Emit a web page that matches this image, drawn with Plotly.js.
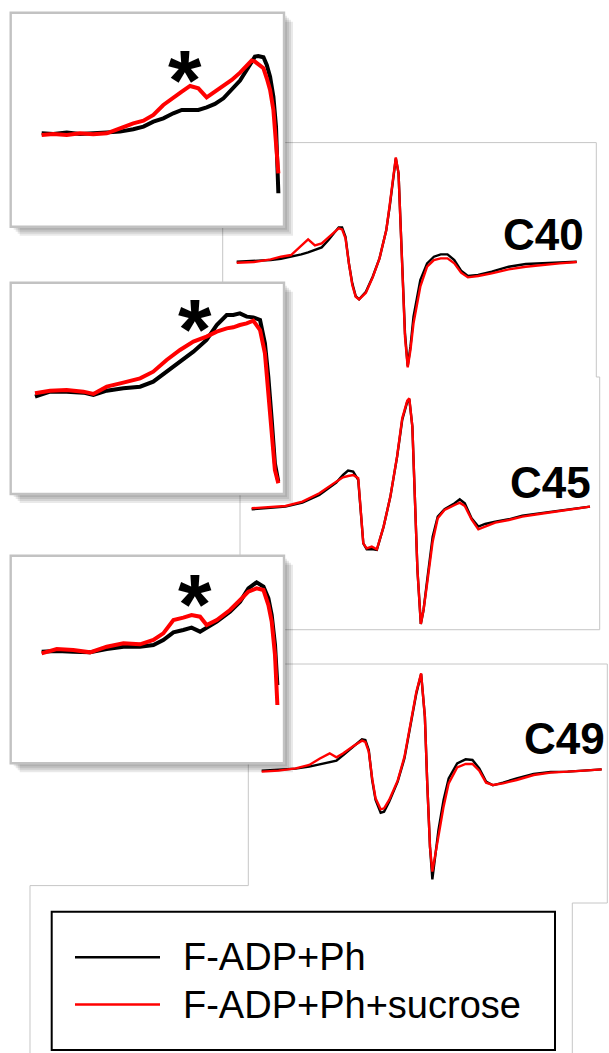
<!DOCTYPE html>
<html><head><meta charset="utf-8">
<script src="https://cdn.plot.ly/plotly-3.0.1.min.js"></script>
<style>html,body{margin:0;padding:0;background:#fff;overflow:hidden}#chart{width:609px;height:1053px}</style>
</head><body><div id="chart"></div>
<script>
// ---------- DATA (relative field, arbitrary EPR intensity) ----------
const seriesNames = ['F-ADP+Ph', 'F-ADP+Ph+sucrose'];
const panelLabels = ['C40', 'C45', 'C49'];

const fieldC40 = [0,5,10,13,16,19,21,23,25,27,29,30,31,32,33,34,35,36,38,40,42,44,45,46,46.8,47.6,48.2,48.8,49.5,50.3,51.1,52,53,54,56,58,60,62,64,66,68,71,75,80,85,90,95,100];
const c40Black = [0,2,5,9,15,22,28,35,43,65,90,103,103,75,-5,-65,-103,-113,-90,-45,10,95,165,245,310,265,115,-55,-215,-313,-255,-165,-105,-55,-5,15,22,22,5,-27,-43,-40,-30,-15,-7,-5,-3,0];
const c40Red   = [-3,-1,7,15,20,47,67,49,55,73,93,100,97,70,-5,-70,-105,-113,-93,-47,10,95,170,255,313,265,115,-55,-225,-317,-265,-185,-125,-75,-15,5,10,10,-5,-33,-47,-43,-35,-23,-15,-9,-5,-1];

const fieldC45 = [0,5,10,15,20,25,27,28.5,30,31.5,32.3,33,34,35.5,37,39,41,43,44.5,46,46.6,47.5,48.3,49,50,50.8,52,53.5,55,57,60,61.5,63,65,67,69,72,76,80,85,90,95,100];
const c45Black = [0,5,8,20,43,80,103,116,113,88,-22,-102,-120,-119,-122,-52,38,158,268,323,330,248,18,-182,-344,-302,-202,-82,-22,0,18,30,18,-27,-52,-44,-37,-30,-19,-12,-7,0,8];
const c45Red   = [3,6,10,23,48,83,96,100,103,93,-22,-102,-117,-112,-120,-52,38,160,273,326,333,248,18,-182,-344,-302,-212,-97,-27,-2,13,20,10,-30,-60,-52,-40,-32,-22,-14,-7,0,8];

const fieldC49 = [0,5,10,14,17,20,22,24,27,29.5,30.5,31.5,32.5,33.5,35,36,37.5,40,42,44,45.5,46.9,48,48.7,49.5,50.2,51,52,53.5,55,57.5,60,62,64,66,68,71,75,80,85,90,95,100];
const c49Black = [0,2,6,12,18,26,30,47,72,94,92,62,-28,-88,-126,-123,-93,-33,37,142,232,290,162,-38,-228,-326,-258,-178,-88,-23,22,34,32,7,-33,-44,-36,-23,-10,-4,-3,0,4];
const c49Red   = [-3,0,7,17,36,52,40,52,74,90,86,57,-23,-83,-116,-113,-88,-30,42,147,237,292,162,-38,-228,-303,-258,-198,-108,-38,10,20,20,0,-36,-43,-38,-28,-13,-6,-4,0,4];

// insets: low-field region enlarged
const fieldIn40 = [0,4.9,10.6,16.2,21.8,27.5,33.1,38.7,43,47.2,51.4,55.6,59.2,62.7,66.2,69.7,73.2,76.8,80.3,83.8,86.6,88.7,90.1,91.5,93.7,95.1,96.5,97.9,99,100];
const in40Black = [0,-2,2,-2,0,2,5,12,20,35,45,60,70,70,70,78,88,105,130,158,190,215,230,232,228,205,170,110,20,-180];
const in40Red   = [-5,-2,-5,0,-3,0,15,30,38,55,85,108,125,142,135,108,125,142,160,182,205,218,215,208,195,165,130,70,-20,-120];

const fieldIn45 = [0,6.2,13,19.9,24,29.5,36.3,43.2,48.6,54.1,59.6,65.1,70.5,74.7,78.8,81.5,84.2,87,89.7,92.5,94.5,95.9,97.3,98.6,100];
const in45Black = [0,15,15,12,5,18,25,30,45,75,105,135,170,215,245,245,250,240,238,230,160,60,-70,-200,-255];
const in45Red   = [10,18,20,15,8,30,42,55,75,110,140,165,180,195,205,208,215,220,228,200,130,20,-110,-220,-260];

const fieldIn49 = [0,6.4,13.4,20.5,27.6,34.7,41.7,47.4,51.6,55.9,60.1,63.6,67.2,70,74.3,79.9,84.2,87.7,91.2,94.1,96.2,97.6,99,100];
const in49Black = [0,2,0,-2,8,15,15,20,35,58,65,72,60,72,90,120,150,190,208,195,160,110,20,-100];
const in49Red   = [-5,8,5,-2,15,25,22,35,55,95,102,110,105,80,95,125,155,180,190,185,140,90,-10,-160];

// ---------- LAYOUT ----------
const W = 609, H = 1053;
const FONT = '"Liberation Sans", Arial, sans-serif';
const px = x => x / W, py = y => 1 - y / H;

// pixel placement of each subplot: pixel = a + b*value
const panels = [
  {f: fieldC40, k: c40Black, r: c40Red, ax: 236.7, bx: 3.4,   ay: 261.7,  xr: [-3, 102], yr: [-360, 360], lw: 2.4},
  {f: fieldC45, k: c45Black, r: c45Red, ax: 251.67, bx: 3.383, ay: 509.3, xr: [-3, 102], yr: [-360, 360], lw: 2.4},
  {f: fieldC49, k: c49Black, r: c49Red, ax: 261.67, bx: 3.4,  ay: 770.67, xr: [-3, 102], yr: [-360, 360], lw: 2.4},
  {f: fieldIn40, k: in40Black, r: in40Red, ax: 41.67, bx: 2.367, ay: 133.3,  xr: [-3, 103], yr: [-300, 300], lw: 4},
  {f: fieldIn45, k: in45Black, r: in45Red, ax: 35,    bx: 2.433, ay: 396.67, xr: [-3, 103], yr: [-300, 300], lw: 4},
  {f: fieldIn49, k: in49Black, r: in49Red, ax: 41.67, bx: 2.357, ay: 651.67, xr: [-3, 103], yr: [-300, 300], lw: 4}
];
const by = -1 / 3;

const traces = [];
const layout = {
  width: W, height: H,
  margin: {l: 0, r: 0, t: 0, b: 0},
  paper_bgcolor: '#ffffff', plot_bgcolor: 'rgba(0,0,0,0)',
  showlegend: false,
  shapes: [], annotations: []
};

panels.forEach((p, i) => {
  const n = i + 1, sx = n === 1 ? '' : String(n);
  layout['xaxis' + sx] = {
    domain: [(p.ax + p.bx * p.xr[0]) / W, (p.ax + p.bx * p.xr[1]) / W],
    range: p.xr, visible: false, fixedrange: true, anchor: 'y' + sx
  };
  layout['yaxis' + sx] = {
    domain: [1 - (p.ay + by * p.yr[0]) / H, 1 - (p.ay + by * p.yr[1]) / H],
    range: p.yr, visible: false, fixedrange: true, anchor: 'x' + sx
  };
  traces.push({x: p.f, y: p.k, xaxis: 'x' + sx, yaxis: 'y' + sx, mode: 'lines',
    name: seriesNames[0], line: {color: '#000000', width: p.lw}, hoverinfo: 'skip'});
  traces.push({x: p.f, y: p.r, xaxis: 'x' + sx, yaxis: 'y' + sx, mode: 'lines',
    name: seriesNames[1], line: {color: '#ff0000', width: p.lw}, hoverinfo: 'skip'});
});

// ---------- frames ----------
const path = pts => pts.map((q, i) => (i ? 'L' : 'M') + px(q[0]).toFixed(5) + ',' + py(q[1]).toFixed(5)).join(' ');
const gray = '#c6c6c6';
const grayPaths = [
  [[222.7,377],[222.7,142.6],[596.3,142.6],[596.3,377],[599.7,377],[599.7,629.7],[240,629.7],[240,377]],
  [[248.3,664],[607.3,664],[607.3,903],[572.3,903],[572.3,1053]],
  [[248.3,664],[248.3,885.6],[30,885.6],[30,1053]]
];
grayPaths.forEach(g => layout.shapes.push({type: 'path', xref: 'paper', yref: 'paper', layer: 'below',
  path: path(g), line: {color: gray, width: 1}}));

const insets = [[10.7, 12.7, 284, 226.7], [10.7, 282.7, 284, 494], [10.7, 555.7, 284, 763.3]];
insets.forEach(b => {
  [9, 7, 5, 3].forEach(d => layout.shapes.push({type: 'rect', xref: 'paper', yref: 'paper', layer: 'below',
    x0: px(b[0] + d), x1: px(b[2] + d), y0: py(b[1] + d), y1: py(b[3] + d),
    fillcolor: 'rgba(0,0,0,0.085)', line: {width: 0}}));
  layout.shapes.push({type: 'rect', xref: 'paper', yref: 'paper', layer: 'below',
    x0: px(b[0]), x1: px(b[2]), y0: py(b[1]), y1: py(b[3]),
    fillcolor: '#ffffff', line: {color: '#c2c2c2', width: 2.4}});
});

// legend box
layout.shapes.push({type: 'rect', xref: 'paper', yref: 'paper', layer: 'below',
  x0: px(51.7), x1: px(555), y0: py(911.7), y1: py(1050), fillcolor: '#ffffff', line: {color: '#000000', width: 2}});
const legendY = [957.3, 1004.5], legendColors = ['#000000', '#ff0000'];
seriesNames.forEach((nm, i) => {
  layout.shapes.push({type: 'line', xref: 'paper', yref: 'paper', x0: px(75), x1: px(160),
    y0: py(legendY[i]), y1: py(legendY[i]), line: {color: legendColors[i], width: 2.5}});
  layout.annotations.push({xref: 'paper', yref: 'paper', x: px(181), y: py(legendY[i]),
    xanchor: 'left', yanchor: 'middle', showarrow: false, text: nm,
    font: {family: FONT, size: 38, color: '#000000'}});
});

// panel labels
const labelPos = [[543, 234], [550, 482.5], [564, 738.5]];
panelLabels.forEach((t, i) => layout.annotations.push({xref: 'paper', yref: 'paper',
  x: px(labelPos[i][0]), y: py(labelPos[i][1]), xanchor: 'center', yanchor: 'middle', showarrow: false,
  text: '<b>' + t + '</b>', font: {family: FONT, size: 44, color: '#000000'}}));

// asterisks marking the sucrose-sensitive shoulder
const starPos = [[185, 67.7], [195, 316.7], [195, 591.7]];
starPos.forEach(s => layout.annotations.push({xref: 'paper', yref: 'paper',
  x: px(s[0]), y: py(s[1] + 12), xanchor: 'center', yanchor: 'middle', showarrow: false,
  text: '<b>*</b>', font: {family: FONT, size: 86, color: '#000000'}}));

Plotly.newPlot('chart', traces, layout, {staticPlot: true, displayModeBar: false});
</script>
</body></html>
